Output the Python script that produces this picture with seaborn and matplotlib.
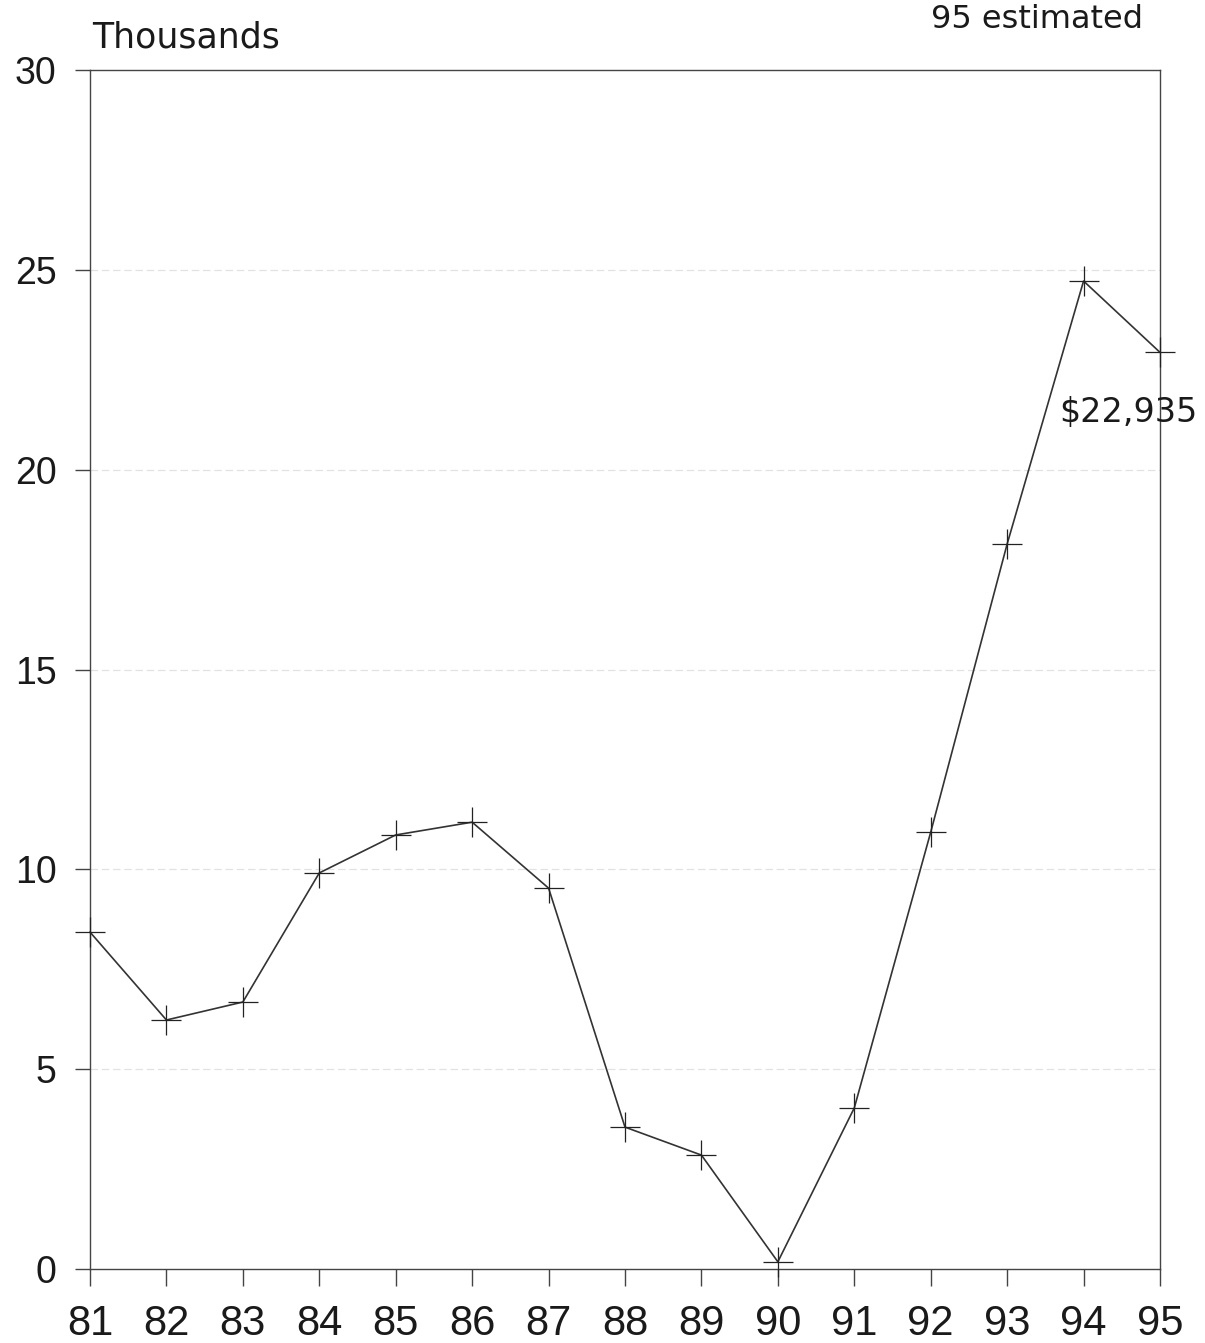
import matplotlib
matplotlib.use("Agg")
import matplotlib.pyplot as plt
import seaborn as sns
import pandas as pd

years = [81, 82, 83, 84, 85, 86, 87, 88, 89, 90, 91, 92, 93, 94, 95]
year_labels = ["81", "82", "83", "84", "85", "86", "87", "88", "89", "90", "91", "92", "93", "94", "95"]
values = [8.43, 6.23, 6.68, 9.91, 10.86, 11.18, 9.53, 3.55, 2.85, 0.18, 4.03, 10.93, 18.14, 24.72, 22.935]
y_ticks = [0, 5, 10, 15, 20, 25, 30]
y_tick_labels = ["0", "5", "10", "15", "20", "25", "30"]
grid_levels = [5, 10, 15, 20, 25]

df = pd.DataFrame({"year": years, "value": values})

sns.set_theme(style="white")
plt.rcParams["font.family"] = ["Liberation Sans", "DejaVu Sans"]

fig = plt.figure(figsize=(12.05, 13.43), dpi=100)
ax = fig.add_axes([90 / 1205, 1 - 1269 / 1343, (1160 - 90) / 1205, (1269 - 70) / 1343])

for g in grid_levels:
    ax.axhline(g, color="#e2e2e2", lw=0.9, ls=(0, (6, 3)), zorder=0)

sns.lineplot(data=df, x="year", y="value", ax=ax, color="#333333", lw=1.2,
             marker="+", markersize=22, markeredgewidth=0.9, markeredgecolor="#222222",
             clip_on=False, zorder=3)

ax.set_xlim(81, 95)
ax.set_ylim(0, 30)
ax.set_xticks(years)
ax.set_xticklabels(year_labels)
ax.set_yticks(y_ticks)
ax.set_yticklabels(y_tick_labels)
ax.set_xlabel("")
ax.set_ylabel("")

for s in ax.spines.values():
    s.set_color("#444444")
    s.set_linewidth(1.0)

ax.tick_params(axis="x", direction="out", length=12, width=1.0, color="#444444",
               labelsize=30, pad=13, labelcolor="#1a1a1a", bottom=True)
ax.tick_params(axis="y", direction="out", length=11, width=1.0, color="#444444",
               labelsize=27, pad=13, labelcolor="#1a1a1a", left=True)

fig.text(92 / 1205, 1 - 37 / 1343, "Thousands", fontsize=25, color="#1a1a1a",
         ha="left", va="center", family=["DejaVu Sans"])
fig.text(1143 / 1205, 1 - 20 / 1343, "95 estimated", fontsize=23, color="#1a1a1a",
         ha="right", va="center", family=["DejaVu Sans"])
ax.annotate("$22,935", xy=(95, values[-1]), xytext=(1198 / 1205, 1 - 413 / 1343),
            textcoords="figure fraction", fontsize=24, color="#1a1a1a",
            ha="right", va="center", family=["DejaVu Sans"])

fig.savefig("out.png", dpi=100, facecolor="white")
